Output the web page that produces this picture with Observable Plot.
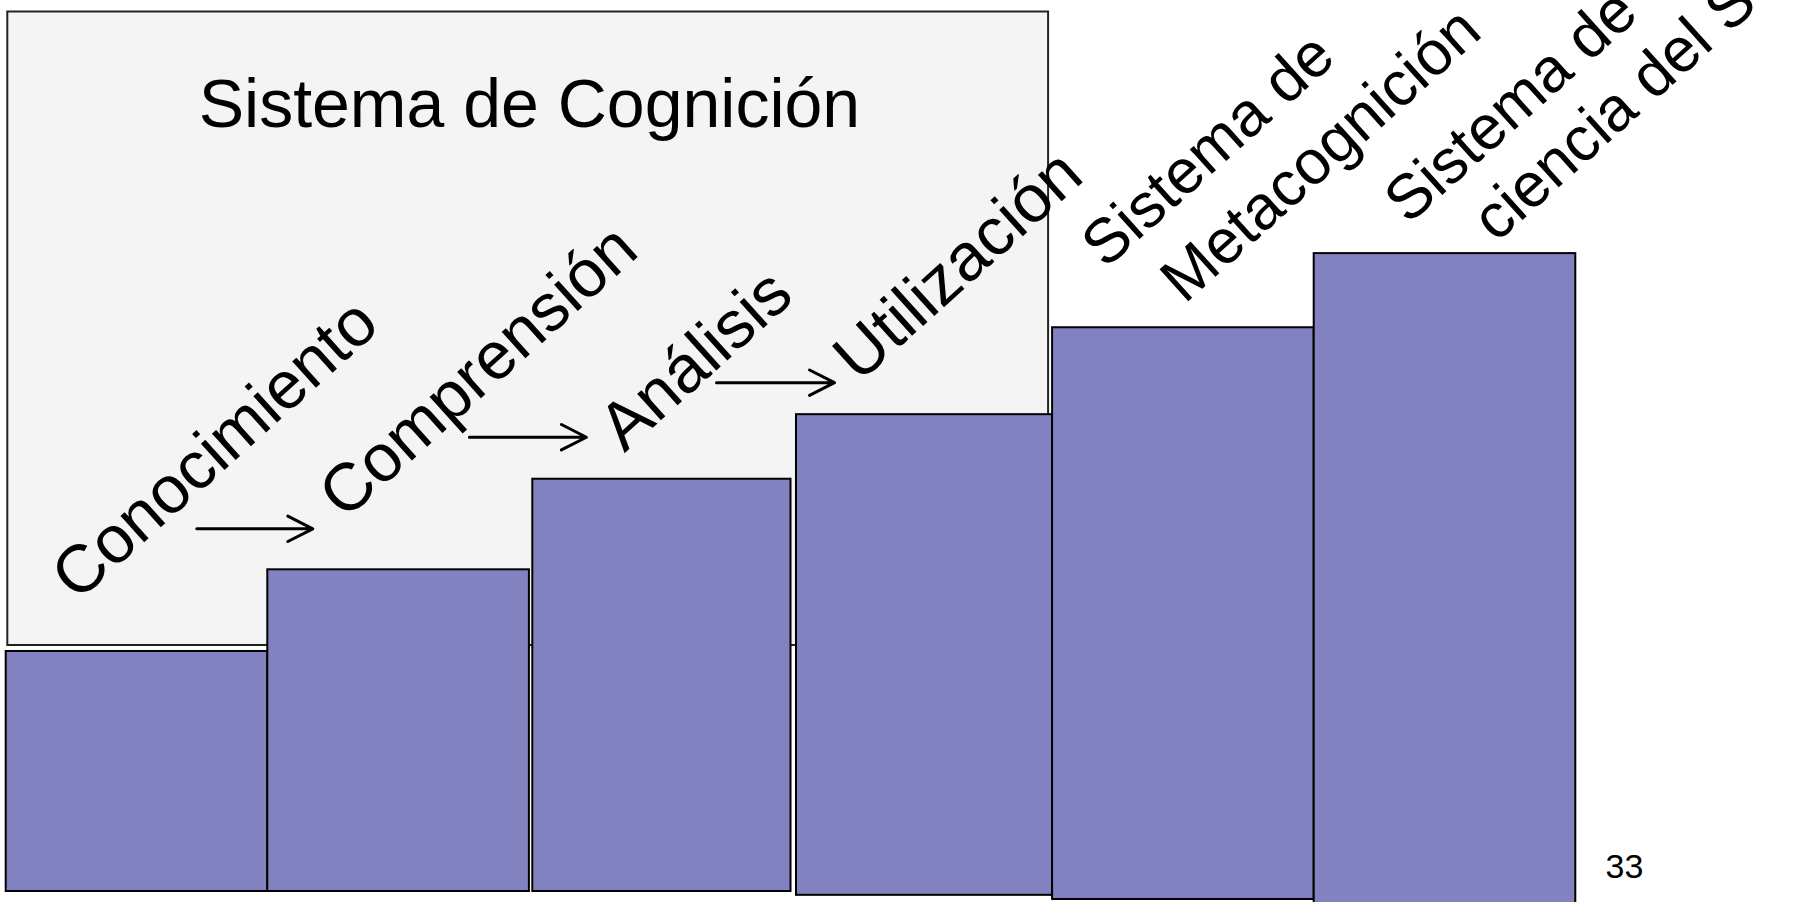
<!DOCTYPE html>
<html><head><meta charset="utf-8">
<script src="https://cdn.jsdelivr.net/npm/d3@7"></script>
<script src="https://cdn.jsdelivr.net/npm/@observablehq/plot@0.6"></script>
<style>
html,body{margin:0;padding:0;background:#fff;}
#chart{width:1796px;height:902px;overflow:hidden;position:relative;}
</style></head><body><div id="chart"></div>
<script>
// ---- data ----
const steps = ["Conocimiento", "Comprensión", "Análisis", "Utilización", "Sistema de Metacognición", "Sistema de Conciencia del Ser"];
const stepLabelLines = [["Conocimiento"], ["Comprensión"], ["Análisis"], ["Utilización"], ["Sistema de", "Metacognición"], ["Sistema de", "ciencia del Ser"]];
const stepLevel = [37.55, 50.33, 64.5, 74.6, 88.2, 99.8];
const stepBase = [0, 0, 0, -0.6, -1.25, -2];
const groupTitle = "Sistema de Cognición";
const groupSize = 4; // first four steps belong to the cognition system
const pageNumber = "33";

// ---- layout (pixels / styles) ----
const W = 1796, H = 902;
const yMax = 139.4;
const FONT = "Liberation Sans, Arial, Helvetica, sans-serif";
const ROT = -42;
const LABEL_SIZE = 67;
const LABEL_SIZE_2LINE = 62.5;
// small horizontal shifts of individual steps (px)
const barInsetLeft = [0, 0, 3.4, 5.5, 0, 0];
// per-line anchor offsets relative to the top-left corner of each step (px)
const labelOffsets = [
  [[71, -49]],
  [[77, -49]],
  [[95, -26]],
  [[68, -31]],
  [[53, -58], [132, -23]],
  [[94, -28], [182, -10]]
];
// arrows between the first cognition steps: [startDx, endDx, dy] relative to top-left of the next step
const arrowOffsets = [[-71, 45, -41], [-60, 57, -42], [-74.5, 43.5, -32]];

const rows = steps.map((s, i) => ({step: s, i, level: stepLevel[i], base: stepBase[i]}));
const xu = (1575.3 - 5.7) / 6;

const marks = [];
// group frame
marks.push(Plot.rect([groupTitle], {
  x1: 0, x2: groupSize, y1: stepLevel[0], y2: yMax,
  insetTop: 11.5, insetBottom: 6, insetLeft: 1.6, insetRight: 4,
  fill: "#f4f4f4", stroke: "#222", strokeWidth: 2
}));
marks.push(Plot.text([groupTitle], {
  x: groupSize / 2, y: yMax, dy: 126, text: d => d,
  lineAnchor: "bottom", textAnchor: "middle", fontSize: 68, fill: "#000"
}));
// steps
rows.forEach((r, i) => {
  marks.push(Plot.rect([r], {
    x1: d => d.i, x2: d => d.i + 1, y1: "base", y2: "level",
    insetLeft: barInsetLeft[i],
    fill: "#8382c1", stroke: "#000", strokeWidth: 2
  }));
});
// arrows
arrowOffsets.forEach((a, k) => {
  const r = rows[k + 1];
  marks.push(Plot.arrow([r], {
    x1: d => d.i + a[0] / xu, x2: d => d.i + a[1] / xu, y1: "level", y2: "level",
    dy: a[2], stroke: "#000", strokeWidth: 3, headLength: 14, headAngle: 54
  }));
});
// labels
rows.forEach((r, i) => {
  const lines = stepLabelLines[i];
  lines.forEach((line, j) => {
    const [dx, dy] = labelOffsets[i][j];
    marks.push(Plot.text([r], {
      x: "i", y: "level", text: () => line, dx, dy, rotate: ROT,
      textAnchor: "start", lineAnchor: "bottom",
      fontSize: lines.length > 1 ? LABEL_SIZE_2LINE : LABEL_SIZE, fill: "#000"
    }));
  });
});
// slide number
marks.push(Plot.text([pageNumber], {
  frameAnchor: "top-left", dx: 1605, dy: 877, text: d => d,
  textAnchor: "start", lineAnchor: "bottom", fontSize: 34, fill: "#000"
}));

const chart = Plot.plot({
  width: W, height: H, margin: 0,
  x: {domain: [0, 6], range: [5.7, 1575.3], axis: null},
  y: {domain: [0, yMax], range: [891, 0], axis: null},
  style: {fontFamily: FONT, background: "#fff", overflow: "hidden"},
  marks
});
document.getElementById("chart").appendChild(chart);
</script></body></html>
